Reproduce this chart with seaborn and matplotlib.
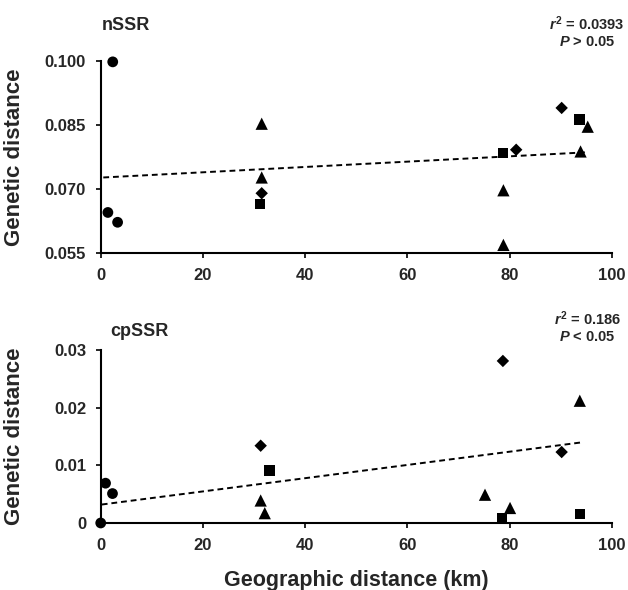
import pandas as pd
import numpy as np
import seaborn as sns
import matplotlib.pyplot as plt

# nSSR panel (geographic km, genetic distance)
n_circle_x = [1.4, 2.35, 3.3]
n_circle_y = [0.0645, 0.0998, 0.0622]
n_tri_x = [31.5, 31.5, 78.8, 78.8, 93.9, 95.3]
n_tri_y = [0.0853, 0.0727, 0.0697, 0.0569, 0.0788, 0.0846]
n_dia_x = [31.5, 81.3, 90.2]
n_dia_y = [0.0690, 0.0792, 0.0890]
n_sq_x = [31.2, 78.7, 93.7]
n_sq_y = [0.0665, 0.0784, 0.0863]
n_trend_x = [0.5, 95.1]
n_trend_y = [0.0727, 0.0786]

# cpSSR panel
c_circle_x = [0.94, 2.3, 0.0]
c_circle_y = [0.0069, 0.0051, 0.0]
c_tri_x = [31.3, 32.1, 75.2, 80.1, 93.75]
c_tri_y = [0.0039, 0.0017, 0.0049, 0.0026, 0.0212]
c_dia_x = [31.3, 78.7, 90.2]
c_dia_y = [0.0134, 0.0281, 0.0123]
c_sq_x = [33.0, 78.5, 93.75]
c_sq_y = [0.0091, 0.0009, 0.0016]
c_trend_x = [0.2, 94.3]
c_trend_y = [0.0032, 0.0140]

n_yticks = [0.055, 0.070, 0.085, 0.100]
n_yticklabels = ['0.055', '0.070', '0.085', '0.100']
c_yticks = [0, 0.01, 0.02, 0.03]
c_yticklabels = ['0', '0.01', '0.02', '0.03']
xticks = [0, 20, 40, 60, 80, 100]


def make_df(cx, cy, tx, ty, dx, dy, sx, sy):
    parts = []
    for g, xs, ys in [('circle', cx, cy), ('triangle', tx, ty),
                      ('diamond', dx, dy), ('square', sx, sy)]:
        parts.append(pd.DataFrame({'x': xs, 'y': ys, 'group': g}))
    return pd.concat(parts, ignore_index=True)


df_n = make_df(n_circle_x, n_circle_y, n_tri_x, n_tri_y, n_dia_x, n_dia_y, n_sq_x, n_sq_y)
df_c = make_df(c_circle_x, c_circle_y, c_tri_x, c_tri_y, c_dia_x, c_dia_y, c_sq_x, c_sq_y)
tr_n = pd.DataFrame({'x': n_trend_x, 'y': n_trend_y})
tr_c = pd.DataFrame({'x': c_trend_x, 'y': c_trend_y})

sns.set_theme(style='white')
plt.rcParams['font.family'] = ['Liberation Sans', 'DejaVu Sans']
plt.rcParams['font.weight'] = 'bold'
plt.rcParams['mathtext.fontset'] = 'custom'
plt.rcParams['mathtext.it'] = 'Liberation Sans:italic:bold'
plt.rcParams['mathtext.rm'] = 'Liberation Sans:bold'

markers = {'circle': 'o', 'triangle': '^', 'diamond': 'D', 'square': 's'}
sizes = {'circle': 60, 'triangle': 78, 'diamond': 40, 'square': 55}

fig = plt.figure(figsize=(6.28, 5.9), dpi=100)
ax1 = fig.add_axes([0.1604, 0.5712, 0.8137, 0.3254])
ax2 = fig.add_axes([0.1604, 0.1136, 0.8137, 0.2932])

for ax, df, tr, yticks, ylabels in [(ax1, df_n, tr_n, n_yticks, n_yticklabels),
                                    (ax2, df_c, tr_c, c_yticks, c_yticklabels)]:
    sns.lineplot(data=tr, x='x', y='y', color='black', lw=1.4,
                 ax=ax, zorder=2)
    ax.lines[-1].set_linestyle((0, (3, 2)))
    sns.scatterplot(data=df, x='x', y='y', style='group', markers=markers,
                    size='group', sizes=sizes, color='black', edgecolor='black',
                    linewidth=0, legend=False, ax=ax, clip_on=False, zorder=3)
    ax.set_xlim(0, 100)
    ax.set_ylim(yticks[0], yticks[-1])
    ax.set_xticks(xticks)
    ax.set_xticklabels([str(t) for t in xticks], fontsize=12, fontweight='bold')
    ax.set_yticks(yticks)
    ax.set_yticklabels(ylabels, fontsize=12, fontweight='bold')
    ax.tick_params(direction='out', length=3.6, width=1.2, color='black', pad=7,
                   bottom=True, left=True)
    for s in ['top', 'right']:
        ax.spines[s].set_visible(False)
    for s in ['left', 'bottom']:
        ax.spines[s].set_color('black')
        ax.spines[s].set_linewidth(1.5)
    ax.set_xlabel('')
    ax.set_ylabel('Genetic distance', fontsize=16, fontweight='bold')
    ax.set_facecolor('white')

ax1.yaxis.set_label_coords(-0.148, 0.5)
ax2.yaxis.set_label_coords(-0.148, 0.5)
ax2.set_xlabel('Geographic distance (km)', fontsize=15.5, fontweight='bold')
ax2.xaxis.set_label_coords(0.5, -0.27)

fig.text(0.162, 0.9576, 'nSSR', fontsize=13, fontweight='bold', va='center')
fig.text(0.175, 0.4373, 'cpSSR', fontsize=13, fontweight='bold', va='center')
fig.text(0.935, 0.9466, '$r^2$ = 0.0393\n$P$ > 0.05', fontsize=10.5, fontweight='bold',
         ha='center', va='center', multialignment='center', linespacing=1.15)
fig.text(0.935, 0.4466, '$r^2$ = 0.186\n$P$ < 0.05', fontsize=10.5, fontweight='bold',
         ha='center', va='center', multialignment='center', linespacing=1.15)

fig.savefig('out.png', dpi=100, facecolor='white')
